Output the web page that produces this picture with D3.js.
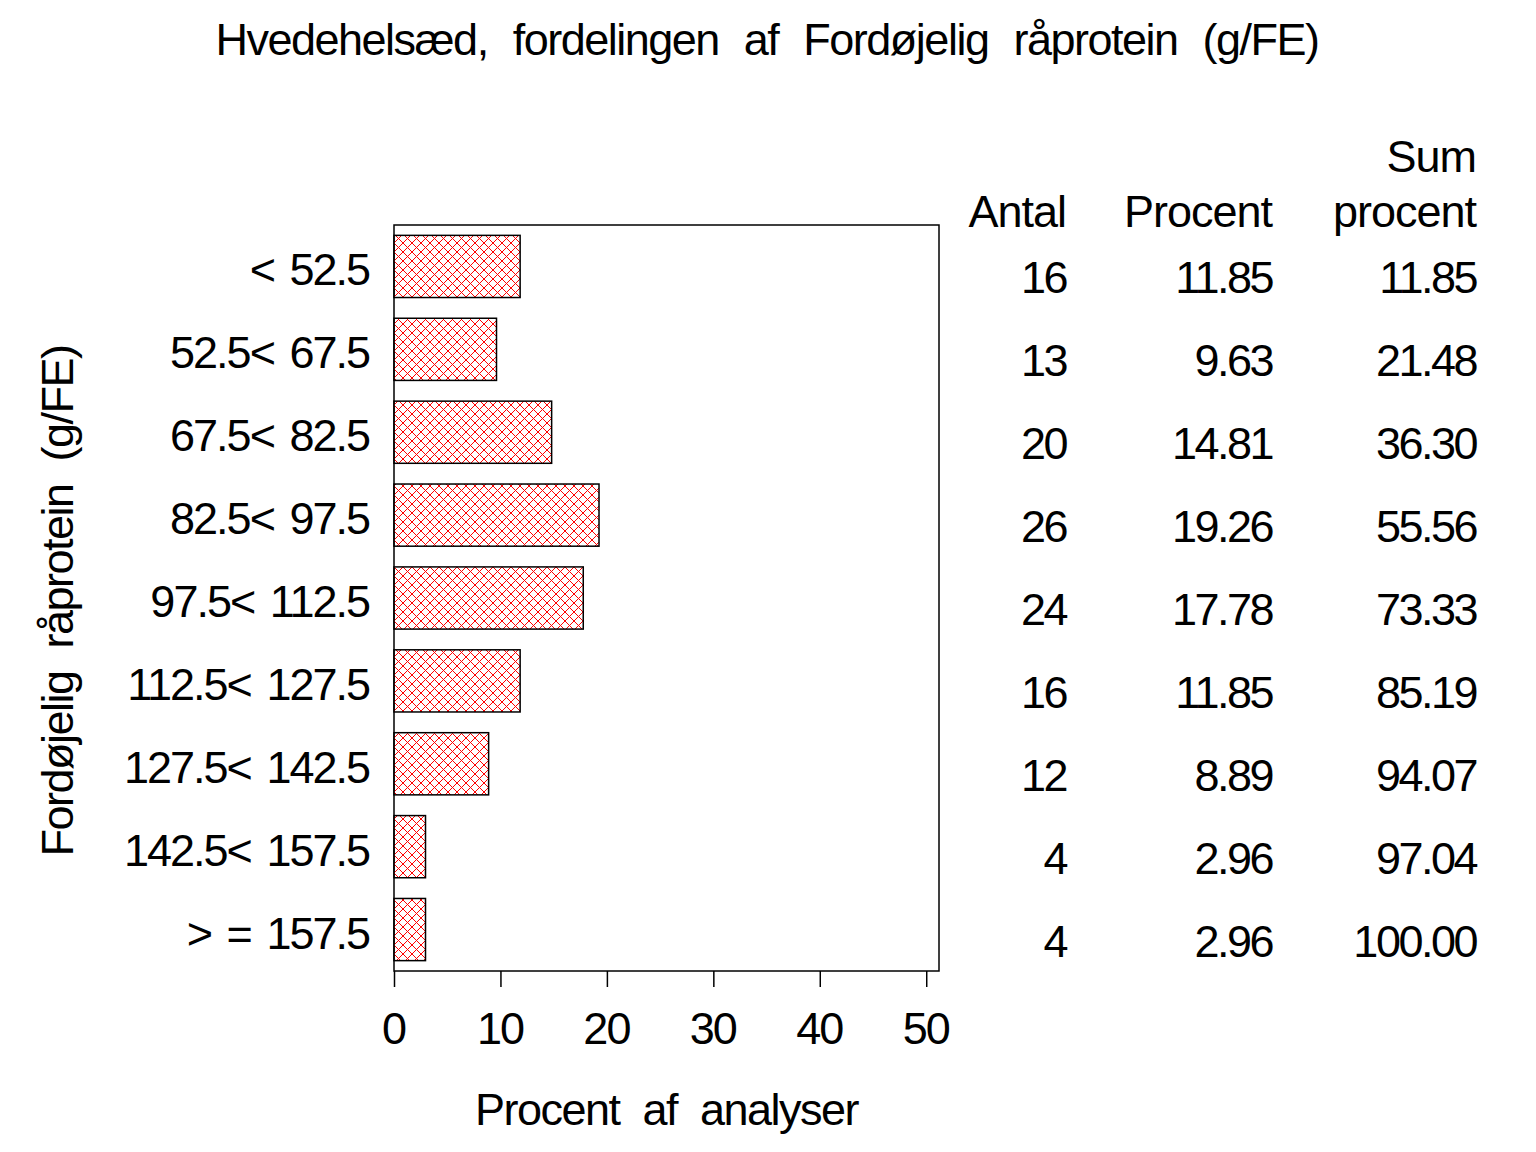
<!DOCTYPE html>
<html><head><meta charset="utf-8">
<script src="https://cdn.jsdelivr.net/npm/d3@7"></script>
<style>
body{margin:0;background:#fff;}
text{font-family:"Liberation Sans",Arial,Helvetica,sans-serif;fill:#000;}
</style></head>
<body><svg id="c" width="1536" height="1152"></svg>
<script>
const categories = ["< 52.5","52.5< 67.5","67.5< 82.5","82.5< 97.5","97.5< 112.5","112.5< 127.5","127.5< 142.5","142.5< 157.5","> = 157.5"];
const antal = [16,13,20,26,24,16,12,4,4];
const procent = [11.85,9.63,14.81,19.26,17.78,11.85,8.89,2.96,2.96];
const sumProcent = [11.85,21.48,36.30,55.56,73.33,85.19,94.07,97.04,100.00];
const xTicks = [0,10,20,30,40,50];
const title = "Hvedehelsæd, fordelingen af Fordøjelig råprotein (g/FE)";
const xLabel = "Procent af analyser";
const yLabel = "Fordøjelig råprotein (g/FE)";

const svg = d3.select("#c");
const L=394, R=939, T=225, B=971;
const fs = 45;

const defs = svg.append("defs");
const pat = defs.append("pattern").attr("id","hatch").attr("patternUnits","userSpaceOnUse")
  .attr("width",9).attr("height",9).attr("x",L).attr("y",0);
pat.append("path").attr("d","M0,0L9,9M-1,8L1,10M8,-1L10,1M9,0L0,9M-1,1L1,-1M8,10L10,8")
  .attr("stroke","#ff0000").attr("stroke-width",1).attr("fill","none");

const x = d3.scaleLinear().domain([0,51.2]).range([L,R]);
const y = d3.scaleBand().domain(categories).range([T,B]).paddingInner(0.25).paddingOuter(0.125);

svg.append("rect").attr("x",L).attr("y",T).attr("width",R-L).attr("height",B-T)
  .attr("fill","none").attr("stroke","#000").attr("stroke-width",1.5);

svg.append("g").selectAll("rect").data(categories).join("rect")
  .attr("x",L).attr("y",d=>y(d)).attr("width",(d,i)=>x(procent[i])-L).attr("height",y.bandwidth())
  .attr("fill","url(#hatch)").attr("stroke","#000").attr("stroke-width",1.5);

const xa = svg.append("g").attr("transform",`translate(0,${B})`)
  .call(d3.axisBottom(x).tickValues(xTicks).tickSize(16).tickPadding(25).tickFormat(d3.format("d")));
xa.select(".domain").remove();
xa.selectAll("line").attr("stroke","#000").attr("stroke-width",1.5);
xa.selectAll("text").attr("font-size",fs).attr("font-family",null).attr("fill","#000")
  .attr("dx",-1).style("letter-spacing","-2px");

svg.append("g").selectAll("text").data(categories).join("text")
  .attr("x",369).attr("y",d=>y(d)+y.bandwidth()/2+19)
  .attr("text-anchor","end").attr("font-size",fs)
  .style("letter-spacing","-2px").style("word-spacing","5px").text(d=>d);

const cols = [{x:1066,vals:antal,f:d=>String(d)},{x:1272,vals:procent,f:d=>d.toFixed(2)},{x:1476,vals:sumProcent,f:d=>d.toFixed(2)}];
const tg = svg.append("g");
cols.forEach(c=>{
  tg.append("g").selectAll("text").data(categories).join("text")
    .attr("x",c.x).attr("y",(d,i)=>y(d)+y.bandwidth()/2+27)
    .attr("text-anchor","end").attr("font-size",fs).style("letter-spacing","-2.5px")
    .text((d,i)=>c.f(c.vals[i]));
});
const hdr = [{x:1066,t:"Antal",y:227},{x:1272,t:"Procent",y:227},{x:1476,t:"Sum",y:172},{x:1476,t:"procent",y:227}];
tg.selectAll(".h").data(hdr).join("text").attr("x",d=>d.x).attr("y",d=>d.y)
  .attr("text-anchor","end").attr("font-size",fs).style("letter-spacing","-1px").text(d=>d.t);

svg.append("text").attr("x",767).attr("y",55).attr("text-anchor","middle")
  .attr("font-size",fs).style("letter-spacing","-1.5px").style("word-spacing","14px").text(title);
svg.append("text").attr("x",(L+R)/2).attr("y",1125).attr("text-anchor","middle")
  .attr("font-size",fs).style("letter-spacing","-1.5px").style("word-spacing","12px").text(xLabel);
svg.append("text").attr("transform",`translate(73,${(T+B)/2 + 3}) rotate(-90)`).attr("text-anchor","middle")
  .attr("font-size",fs).style("letter-spacing","-1.5px").style("word-spacing","12px").text(yLabel);
</script></body></html>
